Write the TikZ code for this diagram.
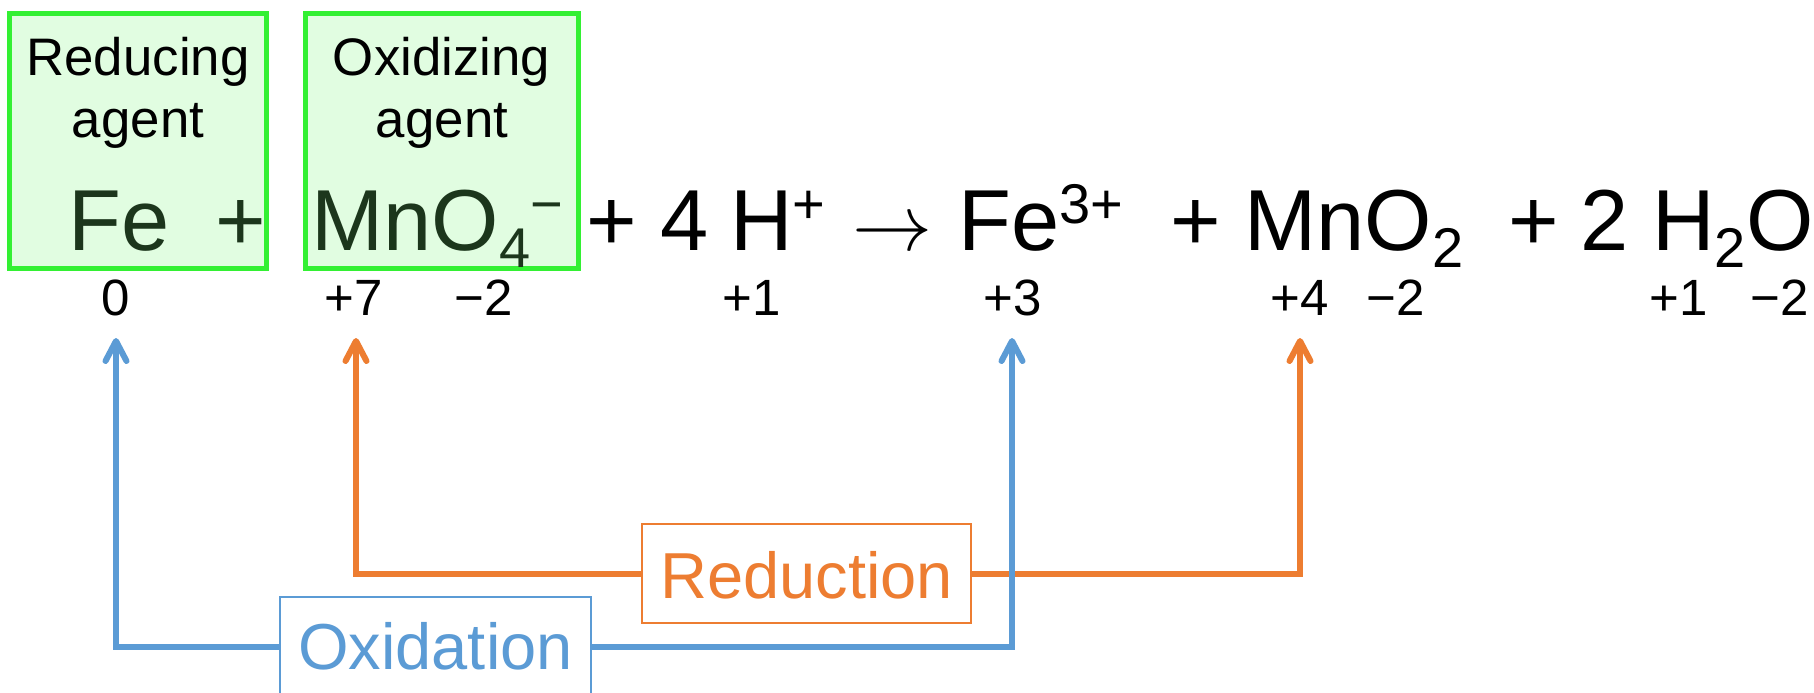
\RequirePackage{fix-cm}
\documentclass[tikz,border=0pt]{standalone}
\usepackage{fontspec}
\setmainfont{Liberation Sans}
\usetikzlibrary{arrows.meta}
\definecolor{oxblue}{RGB}{91,155,213}
\definecolor{redorange}{RGB}{237,125,49}
\definecolor{agentgreen}{RGB}{51,240,51}
\definecolor{agentfill}{RGB}{225,253,225}
\definecolor{ingreen}{RGB}{28,54,28}
\newcommand{\eqfont}{\fontsize{43.3pt}{52pt}\selectfont}
\newcommand{\scriptf}{\fontsize{28pt}{34pt}\selectfont}
\newcommand{\mysub}[1]{\raisebox{-8.5pt}{\scriptf #1}}
\newcommand{\mysup}[1]{\raisebox{13.5pt}{\scriptf #1}}
\begin{document}
\begin{tikzpicture}[x=0.5pt,y=-0.5pt,
  eq/.style={inner sep=0pt,anchor=base west,font=\eqfont},
  eqc/.style={inner sep=0pt,anchor=base,font=\eqfont},
  oxnum/.style={inner sep=0pt,anchor=base,font=\fontsize{25.5pt}{30pt}\selectfont},
  agentbox/.style={draw=agentgreen,fill=agentfill,line width=2.5pt,inner sep=0pt,minimum height=127.5pt},
  agentlbl/.style={inner sep=0pt,anchor=base,font=\fontsize{26.4pt}{31pt}\selectfont},
  lblbox/.style={line width=1pt,fill=white,inner sep=0pt,minimum height=49.5pt,text depth=0pt,font=\fontsize{32.5pt}{39pt}\selectfont},
  redline/.style={draw=redorange,line width=3pt,-{Straight Barb[length=10pt,width=10.5pt,round]}},
  blueline/.style={draw=oxblue,line width=3pt,-{Straight Barb[length=10pt,width=10.5pt,round]}}]
\fill[white] (0,0) rectangle (1814,692);
\useasboundingbox (0,0) rectangle (1814,692);
% agent boxes
\node[agentbox,minimum width=128.5pt] (rbox) at (138,141) {};
\node[agentbox,minimum width=136.5pt] (obox) at (442,141) {};
\node[agentlbl] (r1) at (138,75) {Reducing};
\node[agentlbl] (r2) at (138,137) {agent};
\node[agentlbl] (o1) at (441.5,75) {Oxidizing};
\node[agentlbl] (o2) at (442,137) {agent};
% equation
\node[eq,text=ingreen] (fe) at (68,250) {Fe};
\node[eqc,text=ingreen] (p1) at (240.5,250) {+};
\node[eq,text=ingreen] (mno4) at (311,250) {MnO\mysub{4}\mysup{−}};
\node[eqc] (p2) at (611.5,250) {+};
\node[eq] (n4) at (660,250) {4};
\node[eq] (hp) at (730,250) {H\mysup{+}};
\node[eqc,font=\fontsize{40pt}{48pt}\selectfont] (arr) at (892.5,250) {$\rightarrow$};
\node[eq] (fe3) at (958,250) {Fe\mysup{3+}};
\node[eqc] (p3) at (1195.5,250) {+};
\node[eq] (mno2) at (1244,250) {MnO\mysub{2}};
\node[eqc] (p4) at (1533.5,250) {+};
\node[eq] (n2) at (1580,250) {2};
\node[eq] (h2o) at (1652,250) {H\mysub{2}O};
% oxidation numbers
\node[oxnum] (ox0) at (116,315) {0};
\node[oxnum] (ox7) at (353.5,315) {+7};
\node[oxnum] (oxm2a) at (484,315) {−2};
\node[oxnum] (ox1a) at (752,315) {+1};
\node[oxnum] (ox3) at (1012.5,315) {+3};
\node[oxnum] (ox4) at (1300,315) {+4};
\node[oxnum] (oxm2b) at (1395.5,315) {−2};
\node[oxnum] (ox1b) at (1679,315) {+1};
\node[oxnum] (oxm2c) at (1779.5,315) {−2};
% labels
\node[lblbox,draw=redorange,text=redorange,minimum width=164.5pt,text height=24.5pt] (red) at (806.5,573.5) {Reduction};
\node[lblbox,draw=oxblue,text=oxblue,minimum width=155.5pt,text height=22.5pt] (oxid) at (435.5,646.5) {Oxidation};
% arrow targets
\coordinate (t0) at (116,338);
\coordinate (t3) at (1012,338);
\coordinate (t7) at (356,338);
\coordinate (t4) at (1300,338);
% connectors
\draw[redline] (red.west) -| (t7);
\draw[redline] (red.east) -| (t4);
\draw[blueline] (oxid.west) -| (t0);
\draw[blueline] (oxid.east) -| (t3);
\end{tikzpicture}
\end{document}
